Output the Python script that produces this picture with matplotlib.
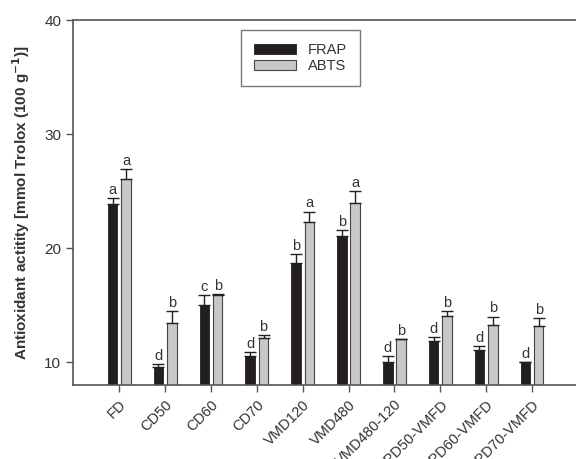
import matplotlib.pyplot as plt
import numpy as np

plt.rcParams["font.family"] = ["Liberation Sans", "DejaVu Sans"]

# Antioxidant activity by drying method, FRAP and ABTS assays
categories = ["FD", "CD50", "CD60", "CD70", "VMD120", "VMD480",
              "VMD480-120", "CPD50-VMFD", "CPD60-VMFD", "CPD70-VMFD"]

frap = [23.9, 9.6, 15.0, 10.5, 18.7, 21.1, 10.0, 11.9, 11.1, 10.0]
frap_err = [0.5, 0.2, 0.85, 0.4, 0.8, 0.5, 0.5, 0.3, 0.3, 0.0]
frap_letters = ["a", "d", "c", "d", "b", "b", "d", "d", "d", "d"]

abts = [26.05, 13.4, 15.9, 12.1, 22.3, 24.0, 12.0, 14.05, 13.3, 13.15]
abts_err = [0.85, 1.1, 0.05, 0.3, 0.9, 1.0, 0.0, 0.45, 0.7, 0.75]
abts_letters = ["a", "b", "b", "b", "a", "a", "b", "b", "b", "b"]

line_col = "#555555"
text_col = "#333333"

fig = plt.figure(figsize=(5.76, 4.59), dpi=100)
ax = fig.add_axes([0.1267, 0.1612, 0.8733, 0.7952])

x = np.arange(len(categories))
w = 0.21
off = 0.145

err_kw = dict(ecolor="#222222", elinewidth=1.0, capsize=4, capthick=1.0)
ax.bar(x - off, frap, width=w, color="#231f20", edgecolor="#231f20",
       linewidth=0.6, label="FRAP", zorder=2)
ax.errorbar(x - off, frap, yerr=[np.zeros(len(frap)), frap_err], fmt="none",
            zorder=3, **err_kw)
ax.bar(x + off, abts, width=w, color="#c8c8c8", edgecolor="#444444",
       linewidth=0.8, label="ABTS", zorder=2)
ax.errorbar(x + off, abts, yerr=[np.zeros(len(abts)), abts_err], fmt="none",
            zorder=3, **err_kw)

# significance letters above the error caps
for xi, v, e, s in zip(x - off, frap, frap_err, frap_letters):
    ax.text(xi, v + e + 0.1, s, ha="center", va="bottom", fontsize=10.5, color=text_col)
for xi, v, e, s in zip(x + off, abts, abts_err, abts_letters):
    ax.text(xi, v + e + 0.1, s, ha="center", va="bottom", fontsize=10.5, color=text_col)

ax.set_xlim(-1.01, 9.96)
ax.set_ylim(8, 40)
ax.set_yticks([10, 20, 30, 40])
ax.set_xticks(x)
ax.set_xticklabels(categories, rotation=45, ha="right", rotation_mode="anchor",
                   fontsize=10.5, color=text_col)
ax.tick_params(axis="y", labelsize=11, colors=text_col, length=5, width=1, color=line_col)
ax.tick_params(axis="x", length=5, width=1, color=line_col, pad=4)

for side in ["left", "top", "bottom"]:
    ax.spines[side].set_color(line_col)
    ax.spines[side].set_linewidth(1.2)
ax.spines["right"].set_visible(False)

ax.set_ylabel(r"Antioxidant actitity [mmol Trolox (100 g$^{\mathbf{-1}}$)]",
              fontsize=11, fontweight="bold", color=text_col, labelpad=9)

leg = ax.legend(loc="upper left", bbox_to_anchor=(0.334, 0.973), fontsize=10.5,
                frameon=True, fancybox=False, edgecolor=line_col, borderaxespad=0,
                handlelength=2.9, handleheight=0.75, borderpad=0.9,
                labelspacing=0.15, handletextpad=0.8)
leg.get_frame().set_linewidth(1.0)
for t in leg.get_texts():
    t.set_color(text_col)

fig.savefig("out.png", dpi=100)
